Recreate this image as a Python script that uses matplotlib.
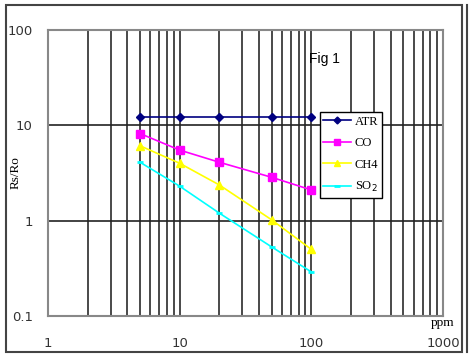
import matplotlib
matplotlib.use("Agg")
import matplotlib.pyplot as plt
from matplotlib.lines import Line2D
from matplotlib.patches import Rectangle

# concentrations (ppm) and sensor ratio readings
ppm = [5, 10, 20, 50, 100]
atr = [12.2, 12.2, 12.2, 12.2, 12.2]
co = [8.2, 5.5, 4.1, 2.85, 2.1]
ch4 = [6.1, 4.0, 2.37, 1.02, 0.5]
so2 = [4.1, 2.3, 1.2, 0.53, 0.29]

series_labels = ["ATR", "CO", "CH4", "SO$_2$"]
x_ticks = [1, 10, 100, 1000]
x_tick_labels = ["1", "10", "100", "1000"]
y_ticks = [0.1, 1, 10, 100]
y_tick_labels = ["0.1", "1", "10", "100"]

fig = plt.figure(figsize=(4.74, 3.58), dpi=100)
ax = fig.add_axes([0.1013, 0.1173, 0.8333, 0.7989])
ax.set_xscale("log")
ax.set_yscale("log")
ax.set_xlim(1, 1000)
ax.set_ylim(0.1, 100)

# vertical grid at every minor/major decade step, horizontal only at majors
for dec in [1, 10, 100]:
    for m in range(1, 10):
        xv = dec * m
        if xv > 1 and xv < 1000:
            ax.axvline(xv, color="#3a3a3a", lw=1.3, zorder=1)
for yv in [1, 10]:
    ax.axhline(yv, color="#222222", lw=1.2, zorder=1)

ax.plot(ppm, atr, color="#000080", marker="D", ms=4, lw=1.2, zorder=3)
ax.plot(ppm, co, color="#FF00FF", marker="s", ms=5.5, lw=1.2, zorder=3)
ax.plot(ppm, ch4, color="#FFFF00", marker="^", ms=6, lw=1.2, zorder=3)
ax.plot(ppm, so2, color="#00FFFF", marker="_", ms=5, mew=2, lw=1.2, zorder=3)

for sp in ax.spines.values():
    sp.set_color("#888888")
    sp.set_linewidth(1.5)

ax.set_xticks(x_ticks)
ax.set_xticklabels(x_tick_labels)
ax.set_yticks(y_ticks)
ax.set_yticklabels(y_tick_labels)
ax.minorticks_off()
ax.tick_params(axis="x", length=0, pad=15, labelsize=9.5, colors="#333333")
ax.tick_params(axis="y", length=0, pad=11, labelsize=9.5, colors="#333333")
ax.set_ylabel("Rs/Ro", family="Liberation Serif", fontsize=9.5)
ax.yaxis.set_label_coords(-0.068, 0.5)

ax.text(1.0, -0.005, "ppm", transform=ax.transAxes, ha="center", va="top",
        family="Liberation Serif", fontsize=9.5)
ax.text(0.66, 0.90, "Fig 1", transform=ax.transAxes, ha="left", va="center",
        family="Liberation Sans", fontsize=10)

handles = [
    Line2D([], [], color="#000080", marker="D", ms=3.5, lw=1.2),
    Line2D([], [], color="#FF00FF", marker="s", ms=4.5, lw=1.2),
    Line2D([], [], color="#FFFF00", marker="^", ms=5, lw=1.2),
    Line2D([], [], color="#00FFFF", marker="_", ms=4, mew=2, lw=1.2),
]
leg = ax.legend(handles, series_labels, loc="upper left",
                bbox_to_anchor=(0.672, 0.735), frameon=True, fancybox=False,
                edgecolor="black", framealpha=1, borderpad=0.3,
                handlelength=2.2, handletextpad=0.3, labelspacing=0.75,
                prop={"family": "Liberation Serif", "size": 9})
leg.get_frame().set_linewidth(1.0)
leg.set_zorder(5)

# outer figure border
fig.patches.append(Rectangle((0.0127, 0.0168), 0.962, 0.969, transform=fig.transFigure,
                             fill=False, edgecolor="#444444", lw=1.5))
fig.lines.append(Line2D([0.985, 0.985], [0.0168, 0.986], transform=fig.transFigure,
                        color="#444444", lw=1.5))

fig.savefig("out.png", dpi=100)
